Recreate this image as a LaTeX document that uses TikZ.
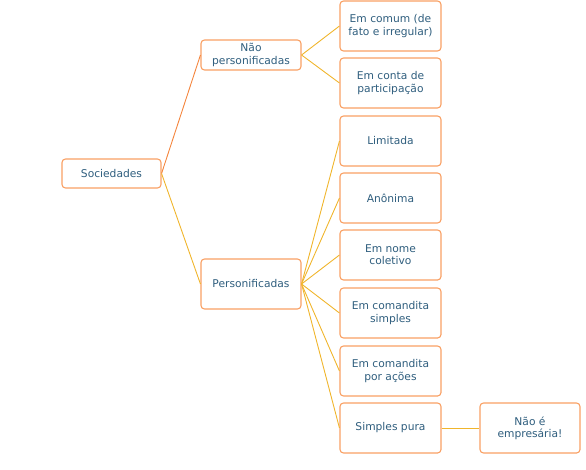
\documentclass[tikz,border=0pt]{standalone}
\usepackage{fontspec}
\setmainfont{DejaVu Sans}
\definecolor{boxline}{HTML}{F9A064}
\definecolor{txt}{HTML}{2F5E7E}
\definecolor{lineor}{HTML}{F4853D}
\definecolor{linegold}{HTML}{F0B52C}
\begin{document}
\begin{tikzpicture}[x=1pt,y=-1pt,
  box/.style={draw=boxline,line width=1.1pt,rounded corners=3.5pt,fill=white,
    minimum width=100pt,minimum height=50pt,inner sep=2pt,align=center,
    text=txt,font=\fontsize{10.7}{12.3}\selectfont},
  flat/.style={box,minimum height=30pt},
  link/.style={draw=linegold,line width=0.9pt},
  linko/.style={draw=lineor,line width=0.9pt}]
\useasboundingbox (0,0) rectangle (586,469);
\node[flat,minimum width=99pt,minimum height=29pt] (soc) at (111.5,173.5) {Sociedades};
\node[flat] (np) at (251,55) {Não\\personificadas};
\node[box] (pe) at (251,284) {Personificadas};
\node[box,minimum width=101pt] (c1) at (390.5,26) {Em comum (de\\fato e irregular)};
\node[box,minimum width=101pt] (c2) at (390.5,83) {Em conta de\\participação};
\node[box,minimum width=101pt] (c3) at (390.5,141) {Limitada};
\node[box,minimum width=101pt] (c4) at (390.5,198) {Anônima};
\node[box,minimum width=101pt] (c5) at (390.5,255) {Em nome\\coletivo};
\node[box,minimum width=101pt] (c6) at (390.5,313) {Em comandita\\simples};
\node[box,minimum width=101pt] (c7) at (390.5,371) {Em comandita\\por ações};
\node[box,minimum width=101pt] (c8) at (390.5,428) {Simples pura};
\node[box] (ne) at (530,428) {Não é\\empresária!};
\draw[linko] (soc.east) -- (np.west);
\draw[link] (soc.east) -- (pe.west);
\foreach \c in {c1,c2} \draw[link] (np.east) -- (\c.west);
\foreach \c in {c3,c4,c5,c6,c7,c8} \draw[link] (pe.east) -- (\c.west);
\draw[link] (c8.east) -- (ne.west);
\end{tikzpicture}
\end{document}
